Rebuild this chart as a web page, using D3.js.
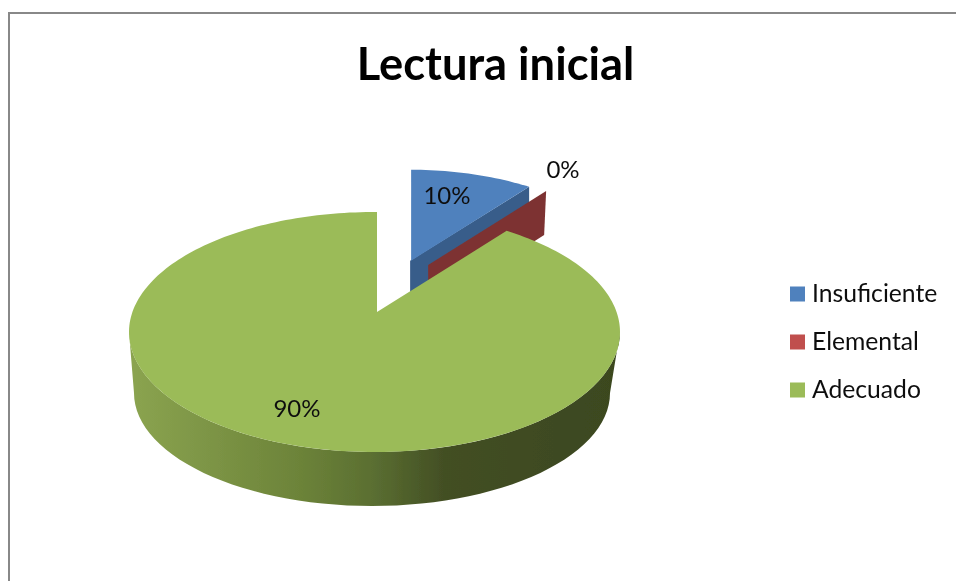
<!DOCTYPE html>
<html>
<head>
<meta charset="utf-8">
<script src="https://cdn.jsdelivr.net/npm/d3@7"></script>
<style>
  html, body { margin: 0; padding: 0; background: #fff; overflow: hidden; }
  text { font-family: Lato, "Open Sans", sans-serif; fill: #111; }
</style>
</head>
<body>
<svg id="chart"></svg>
<script>
const chartTitle = "Lectura inicial";
const categories = ["Insuficiente", "Elemental", "Adecuado"];
const values = [10, 0, 90];

const colors = ["#4f81bd", "#c0504d", "#9bbb59"];
const wallColors = ["#385d8a", "#7d3331"];

const width = 956, height = 581;

const svgRoot = d3.select("#chart").attr("width", width).attr("height", height);

// the reference is a slightly upscaled screenshot, so everything is a bit soft
svgRoot.append("filter").attr("id", "soft")
  .attr("filterUnits", "userSpaceOnUse")
  .attr("x", 0).attr("y", 0).attr("width", width).attr("height", height)
  .append("feGaussianBlur").attr("stdDeviation", 0.45);
const svg = svgRoot.append("g").attr("filter", "url(#soft)");

// frame, only top and left are in the picture
svg.append("path")
  .attr("d", `M9,${height}V13H${width}`)
  .attr("fill", "none")
  .attr("stroke", "#888")
  .attr("stroke-width", 2);

svg.append("text")
  .attr("x", 495.5)
  .attr("y", 80)
  .attr("text-anchor", "middle")
  .style("font-size", "45.3px")
  .style("font-weight", "bold")
  .style("fill", "#000")
  .text(chartTitle);

// pie in fake perspective: top face is an ellipse, the true centre sits above the ellipse centre
const ell = {cx: 374.5, cy: 332, rx: 245.5, ry: 120};
const low = {cx: 372, cy: 393, rx: 238, ry: 113};
const hub = {x: 377, y: 312};
const rayY = 0.93;
const explode = [0.45, 0.444, 0];
const shrink = [0.91, 0.91, 1];

const slices = d3.pie().sort(null).value(d => d)(values);

// where the ray for a pie angle leaves the top ellipse, relative to the hub
function rim(a) {
  const dx = ell.rx * Math.sin(a), dy = -ell.ry * rayY * Math.cos(a);
  const ox = (hub.x - ell.cx) / ell.rx, oy = (hub.y - ell.cy) / ell.ry;
  const ux = dx / ell.rx, uy = dy / ell.ry;
  const A = ux * ux + uy * uy, B = 2 * (ox * ux + oy * uy), C = ox * ox + oy * oy - 1;
  const t = (-B + Math.sqrt(B * B - 4 * A * C)) / (2 * A);
  return [dx * t, dy * t];
}

function apex(d) {
  const mid = (d.startAngle + d.endAngle) / 2 - (d.index === 1 ? 0.14 : 0);
  const f = explode[d.index];
  return [hub.x + ell.rx * Math.sin(mid) * f, hub.y - ell.ry * Math.cos(mid) * f];
}

function facePoints(d) {
  const c = apex(d), s = shrink[d.index];
  const steps = Math.max(2, Math.ceil((d.endAngle - d.startAngle) * 40));
  const pts = d3.range(steps + 1).map(i => {
    const a = d.startAngle + (d.endAngle - d.startAngle) * i / steps;
    const r = rim(a);
    return [c[0] + r[0] * s, c[1] + r[1] * s];
  });
  return [c, ...pts];
}

const line = d3.line();

const defs = svg.append("defs");
const grad = defs.append("linearGradient")
  .attr("id", "wallGrad")
  .attr("gradientUnits", "userSpaceOnUse")
  .attr("x1", ell.cx - ell.rx).attr("x2", ell.cx + ell.rx)
  .attr("y1", 0).attr("y2", 0);
[[0, "#8ba450"], [0.35, "#6c8339"], [0.5, "#5a6e31"], [0.64, "#434f24"], [1, "#3b471f"]]
  .forEach(s => grad.append("stop").attr("offset", s[0]).attr("stop-color", s[1]));

const chart = svg.append("g");

// blue slice, wall goes first
const blue = slices[0];
const blueFace = facePoints(blue);
const blueEnd = blueFace[blueFace.length - 1];
const blueTip = blueFace[0];
chart.append("path")
  .attr("d", line([[blueTip[0] - 1, blueTip[1]], blueEnd, [blueEnd[0], blueEnd[1] + 44], [blueTip[0] - 1, blueTip[1] + 44]]) + "Z")
  .attr("fill", wallColors[0]);
chart.append("path")
  .attr("d", line(blueFace) + "Z")
  .attr("fill", colors[0]);

// zero slice is only its cut face
const red = slices[1];
const redTip = apex(red);
const redRim = rim(red.startAngle);
const redEnd = [redTip[0] + redRim[0] * shrink[1], redTip[1] + redRim[1] * shrink[1]];
chart.append("path")
  .attr("d", line([redTip, redEnd, [redEnd[0] - 2, redEnd[1] + 44], [redTip[0], redTip[1] + 44]]) + "Z")
  .attr("fill", wallColors[1]);

// green wall, front half of the two ellipses
const halfAngles = d3.range(0, 181, 3).map(d => d * Math.PI / 180);
const wallTop = halfAngles.map(a => [ell.cx + ell.rx * Math.cos(a), ell.cy + ell.ry * Math.sin(a)]);
const wallLow = halfAngles.map(a => [low.cx + low.rx * Math.cos(a), low.cy + low.ry * Math.sin(a)]).reverse();
chart.append("path")
  .attr("d", line([...wallTop, ...wallLow]) + "Z")
  .attr("fill", "url(#wallGrad)");

chart.append("path")
  .attr("d", line(facePoints(slices[2])) + "Z")
  .attr("fill", colors[2]);

// data labels
const pct = d3.format(".0%");
const total = d3.sum(values);
const labelPos = [[447, 204], [563, 178], [297, 417]];
svg.selectAll(".lbl")
  .data(values)
  .enter().append("text")
  .attr("class", "lbl")
  .attr("x", (d, i) => labelPos[i][0])
  .attr("y", (d, i) => labelPos[i][1])
  .attr("text-anchor", "middle")
  .style("font-size", "24px")
  .text(d => pct(d / total));

// legend
const legendY = d3.scalePoint().domain(categories).range([294, 390]);
const legend = svg.selectAll(".legend")
  .data(categories)
  .enter().append("g")
  .attr("class", "legend")
  .attr("transform", d => `translate(790,${legendY(d)})`);
legend.append("rect")
  .attr("y", -7.5)
  .attr("width", 15)
  .attr("height", 15)
  .attr("fill", (d, i) => colors[i]);
legend.append("text")
  .attr("x", 22)
  .attr("y", 8)
  .style("font-size", "24.7px")
  .text(d => d);
</script>
</body>
</html>
